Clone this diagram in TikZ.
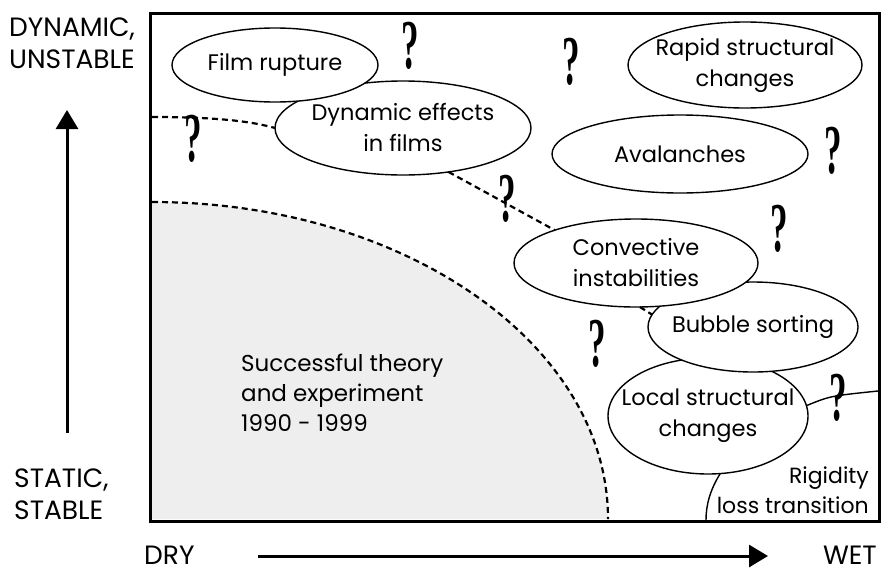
\documentclass[tikz,border=0pt]{standalone}
\usepackage{fontspec}
\setmainfont{Poppins}
\newfontfamily\qfont{Liberation Serif}
\usetikzlibrary{shapes.geometric,arrows.meta}
\tikzset{
 bubble/.style={ellipse, draw, line width=1.4pt, inner sep=0pt, outer sep=0pt, fill=white},
 txt/.style={font=\fontsize{22.5}{31}\selectfont, align=center, inner sep=0pt},
 lbl/.style={font=\fontsize{23}{30}\selectfont, inner sep=0pt},
 axlbl/.style={font=\fontsize{26.5}{32}\selectfont, inner sep=0pt},
 qm/.style={font=\qfont\bfseries\fontsize{70}{70}\selectfont, inner sep=0pt},
 bound/.style={line width=2.2pt, dash pattern=on 6pt off 4pt},
 solidline/.style={line width=1.4pt},
 axis/.style={line width=3pt, -{Triangle[length=19pt,width=22pt]}},
}
\newcommand{\qq}{\scalebox{0.5}[1]{?}}
\begin{document}
\begin{tikzpicture}[x=1pt,y=-1pt]
\useasboundingbox (0,0) rectangle (882,573);
% grey region
\fill[gray!13] (152,519) -- (152,202) arc[start angle=-90, end angle=0, x radius=456, y radius=317] -- cycle;
\draw[bound] (152,202) arc[start angle=-90, end angle=0, x radius=456, y radius=317];
% frame
\node[draw, line width=3pt, minimum width=729pt, minimum height=508pt, inner sep=0pt] (frame) at (514.5,267) {};
% ellipses (back to front)
\node[bubble, minimum width=256pt, minimum height=94pt] (de) at (403,128) {};
\node[bubble, minimum width=206pt, minimum height=74pt] (fr) at (275,65) {};
\node[bubble, minimum width=234pt, minimum height=86pt] (rs) at (745,65) {};
\node[bubble, minimum width=256pt, minimum height=78pt] (av) at (680,154) {};
\node[bubble, minimum width=200pt, minimum height=116pt] (ls) at (708,416) {};
\node[bubble, minimum width=210pt, minimum height=90pt] (bs) at (753,327) {};
\node[bubble, minimum width=244pt, minimum height=88pt] (ci) at (636,263) {};
% boundaries
\coordinate (ul) at (152,117);
\coordinate (re) at (878,391);
\coordinate (be) at (706,520);
\draw[bound] (ul) .. controls (215,117) and (250,121) .. (de.west);
\draw[bound] (de.-44) -- (ci.158);
\draw[bound] (ci.-85) -- (bs.173);
\draw[solidline] (ls.6) .. controls (830,396) .. (re);
\draw[solidline] (ls.-78) .. controls (710,490) and (706,505) .. (be);
% texts in ellipses
\node[txt] at (fr) {Film rupture};
\node[txt] at (de) {Dynamic effects\\in films};
\node[txt] at (rs) {Rapid structural\\changes};
\node[txt] at (av) {Avalanches};
\node[txt] at (ci) {Convective\\instabilities};
\node[txt] at (bs) {Bubble sorting};
\node[txt] at (ls) {Local structural\\changes};
% region texts
\node[lbl, align=left, anchor=west] (st) at (241,393) {Successful theory\\and experiment\\1990 - 1999};
\node[lbl, font=\fontsize{22}{30}\selectfont, align=right, anchor=east] (rl) at (869,490) {Rigidity\\loss transition};
% question marks
\node[qm] (q1) at (410,46) {\qq};
\node[qm] (q2) at (571,62) {\qq};
\node[qm] (q3) at (193,139) {\qq};
\node[qm] (q4) at (507,199) {\qq};
\node[qm] (q5) at (833,151) {\qq};
\node[qm] (q6) at (779,229) {\qq};
\node[qm] (q7) at (597,344) {\qq};
\node[qm] (q8) at (838,398) {\qq};
% axes
\node[axlbl, align=left, anchor=west] (top) at (9,43) {DYNAMIC,\\UNSTABLE};
\node[axlbl, align=left, anchor=west] (bot) at (14,494) {STATIC,\\STABLE};
\node[axlbl, anchor=west] (dry) at (144,555) {DRY};
\node[axlbl, anchor=east] (wet) at (877,555) {WET};
\coordinate (ya) at (67,433);
\coordinate (yb) at (67,110);
\coordinate (xa) at (258,556);
\coordinate (xb) at (768,556);
\draw[axis] (ya) -- (yb);
\draw[axis] (xa) -- (xb);
\end{tikzpicture}
\end{document}
